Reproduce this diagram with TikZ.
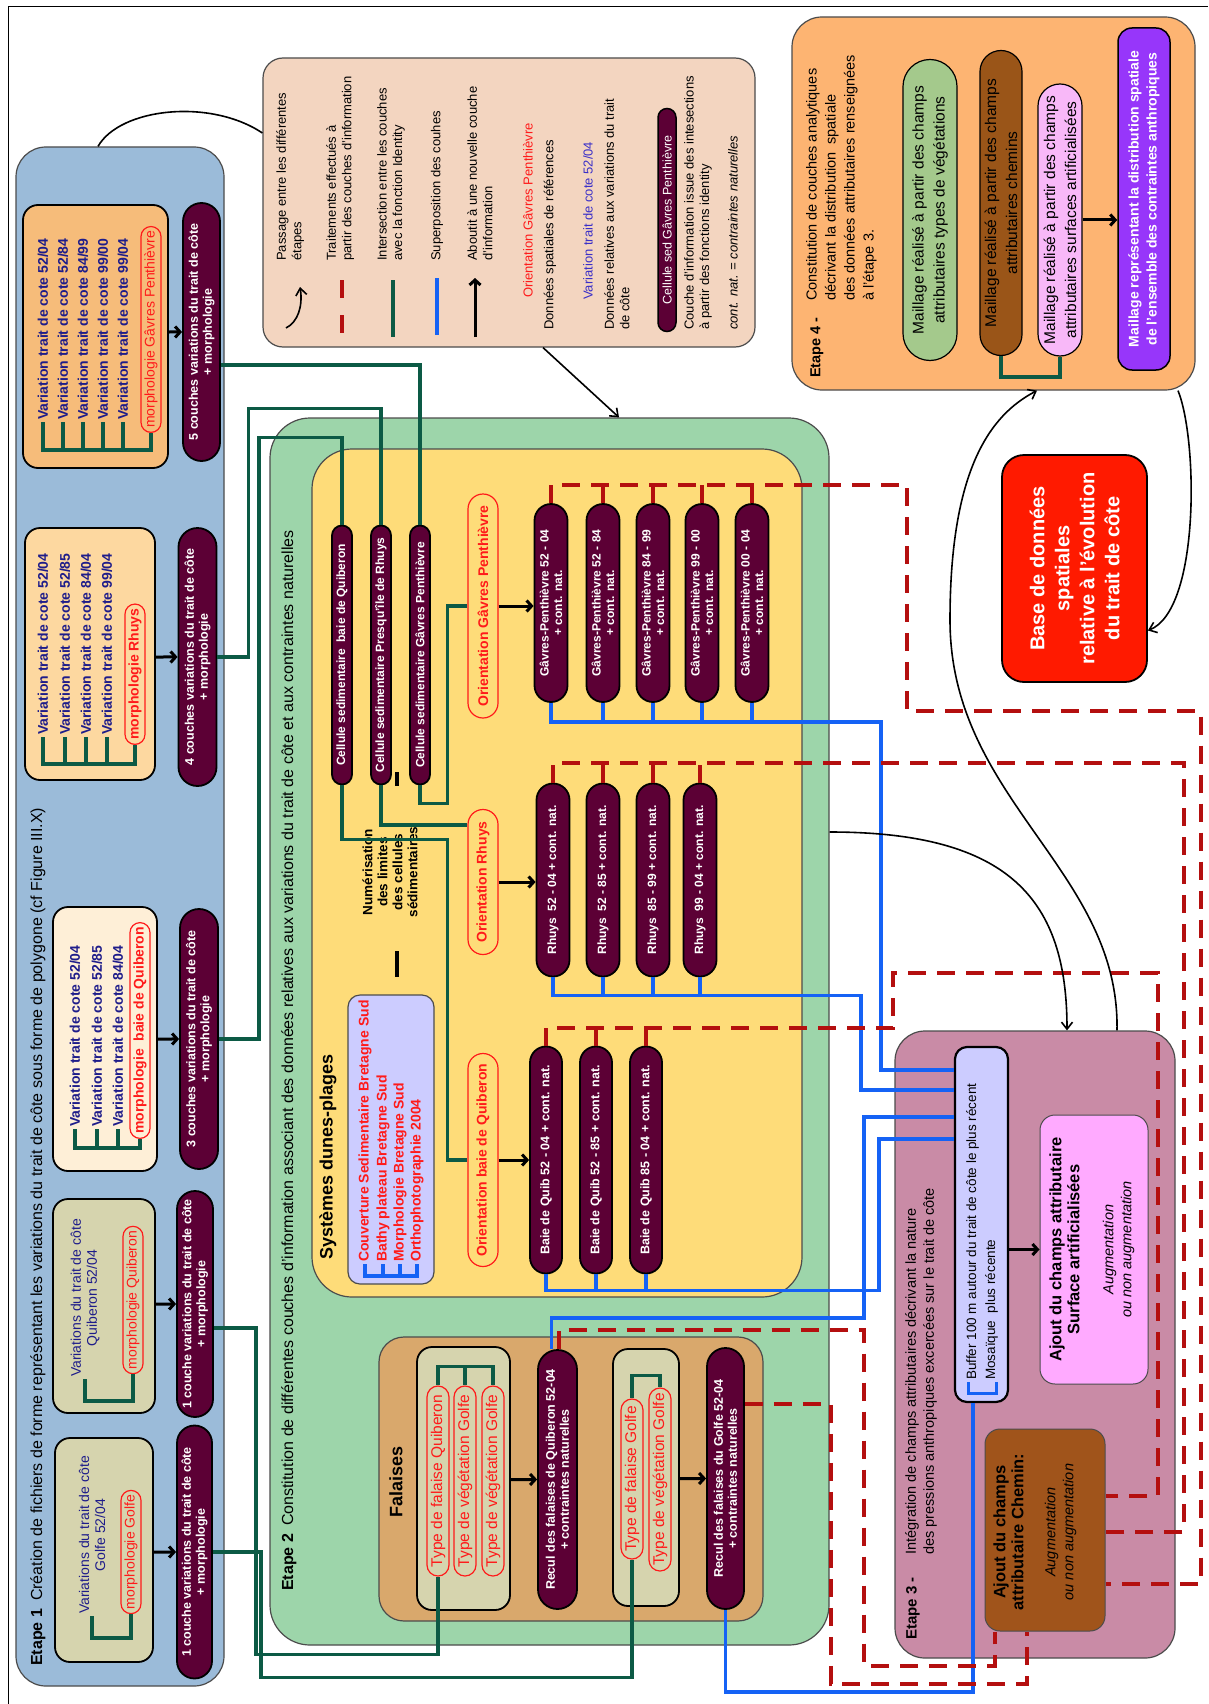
\documentclass[tikz,border=0pt]{standalone}
\usepackage{fontspec}
\setmainfont{Liberation Sans}
\usetikzlibrary{shapes.misc,fit,arrows.meta}

\definecolor{etblue}{HTML}{9BBBD9}
\definecolor{khaki}{HTML}{D6D4AE}
\definecolor{cream}{HTML}{FEEFD7}
\definecolor{sand}{HTML}{FDD8A0}
\definecolor{apricot}{HTML}{F6BC7A}
\definecolor{plum}{HTML}{5C0035}
\definecolor{navytxt}{HTML}{1E1C8A}
\definecolor{redtxt}{HTML}{FF1A1A}
\definecolor{tealln}{HTML}{0C5A45}
\definecolor{bluln}{HTML}{1562F5}
\definecolor{darkred}{HTML}{B40F0F}
\definecolor{peach}{HTML}{F3D5C0}
\definecolor{etgreen}{HTML}{9DD5AA}
\definecolor{dunes}{HTML}{FEDC79}
\definecolor{lavend}{HTML}{CCCCFF}
\definecolor{cliff}{HTML}{D9A86C}
\definecolor{mauve}{HTML}{C98BA6}
\definecolor{pinkbox}{HTML}{FFAAFF}
\definecolor{chemcol}{HTML}{A0541B}
\definecolor{etorange}{HTML}{FDB472}
\definecolor{vegpill}{HTML}{A4C98C}
\definecolor{brnpill}{HTML}{9A5518}
\definecolor{pnkpill}{HTML}{F8B8F8}
\definecolor{violbox}{HTML}{9736FA}
\definecolor{basered}{HTML}{FF1A00}
\definecolor{legblue}{HTML}{3A2FC8}

\begin{document}
\begin{tikzpicture}[x=1pt, y=-1pt,
    vt/.style={rotate=90, align=center, inner sep=2pt},
    zone/.style={draw=black!70, line width=1.2pt, rounded corners=#1, inner sep=0pt},
    zone/.default=30pt,
    cadre/.style={zone=15pt, draw=black, line width=1.8pt},
    ln/.style={vt, anchor=west, text=navytxt, font=\bfseries\fontsize{14}{17}\selectfont},
    navy/.style={vt, text=navytxt, font=\fontsize{14}{16}\selectfont},
    morph/.style={vt, anchor=west, rounded rectangle, draw=redtxt, line width=1.2pt, text=redtxt, font=\fontsize{14}{17}\selectfont, inner xsep=2pt, inner ysep=1pt, minimum height=20pt},
    pill/.style 2 args={vt, rounded rectangle, draw=black, line width=1.8pt, fill=plum, text=white, font=\bfseries\fontsize{12.5}{14}\selectfont, inner sep=1pt, minimum width=#1, minimum height=#2},
    orient/.style={vt, rounded rectangle, draw=redtxt, line width=1.2pt, fill=dunes, text=redtxt, font=\bfseries\fontsize{14}{17}\selectfont, minimum height=30pt},
    typ/.style={vt, rounded rectangle, draw=redtxt, line width=1.2pt, text=redtxt, font=\fontsize{15.5}{18}\selectfont, inner sep=1pt, minimum height=22pt},
    legt/.style={vt, align=left, anchor=north west, font=\fontsize{13}{15.5}\selectfont},
    e4pill/.style={vt, rounded rectangle, draw=black, line width=1.2pt, font=\fontsize{15.5}{21}\selectfont},
    arr/.style={-{Straight Barb[length=5pt,width=11pt]}, line width=3pt},
    grn/.style={draw=tealln, line width=3.5pt},
    blu/.style={draw=bluln, line width=3.5pt},
    dsh/.style={draw=darkred, line width=4pt, dash pattern=on 18pt off 11pt},
    crv/.style={line width=1.6pt},
    crvarr/.style={crv, -{Straight Barb[length=7pt,width=11pt]}}
  ]
\useasboundingbox (0,0) rectangle (1208,1704);
\fill[white] (0,0) rectangle (1208,1704);
\draw[line width=1pt] (8,1704) -- (8,7) -- (1208,7);

% Etape 1
\node[zone, fill=etblue, fit={(16,147) (224,1686)}] (e1) {};
\node[vt, anchor=west, font=\fontsize{16}{19}\selectfont] (e1t) at (38,1668) {\textbf{Etape 1}\enspace Création de fichiers de forme représentant les variations du trait de côte sous forme de polygone (cf Figure III.X)};

\node[cadre, fill=apricot, fit={(23,205) (168,468)}] (b5) {};
\node[ln] (v51) at (43,422) {Variation trait de cote 52/04};
\node[ln] (v52) at (63,422) {Variation trait de cote 52/84};
\node[ln] (v53) at (83,422) {Variation trait de cote 84/99};
\node[ln] (v54) at (103,422) {Variation trait de cote 99/00};
\node[ln] (v55) at (123,422) {Variation trait de cote 99/04};
\node[morph] (m5) at (151,433) {morphologie Gâvres Penthièvre};
\node[pill={260pt}{37pt}] (n5) at (201.5,332) {5 couches variations du trait de côte\\+ morphologie};

\node[cadre, fill=sand, fit={(25,528) (155,780)}] (b4) {};
\node[ln] (v41) at (43,737) {Variation trait de cote 52/04};
\node[ln] (v42) at (65,737) {Variation trait de cote 52/85};
\node[ln] (v43) at (86,737) {Variation trait de cote 84/04};
\node[ln] (v44) at (107,737) {Variation trait de cote 99/04};
\node[morph, font=\bfseries\fontsize{14}{17}\selectfont] (m4) at (135,745) {morphologie Rhuys};
\node[pill={260pt}{38pt}] (n4) at (197.5,657) {4 couches variations du trait de côte\\+ morphologie};

\node[cadre, fill=cream, fit={(53,907) (157,1171)}] (b3) {};
\node[ln] (v31) at (75,1129) {Variation trait de cote 52/04};
\node[ln] (v32) at (97,1129) {Variation trait de cote 52/85};
\node[ln] (v33) at (118,1129) {Variation trait de cote 84/04};
\node[morph, font=\bfseries\fontsize{14}{17}\selectfont] (m3) at (140,1139) {morphologie\ \ baie de Quiberon};
\node[pill={262pt}{38pt}] (n3) at (199,1039) {3 couches variations du trait de côte\\+ morphologie};

\node[cadre, fill=khaki, fit={(53,1199) (155,1413)}] (b2) {};
\node[navy] (t2) at (85,1298) {Variations du trait de côte\\Quiberon 52/04};
\node[morph, anchor=center] (m2) at (133,1300) {morphologie Quiberon};
\node[pill={228pt}{36pt}] (n1b) at (195,1304) {1 couche variations du trait de côte\\+ morphologie};

\node[cadre, fill=khaki, fit={(55,1438) (153,1662)}] (b1) {};
\node[navy] (t1) at (92,1535) {Variations du trait de côte\\Golfe 52/04};
\node[morph, anchor=center] (m1) at (131,1552) {morphologie Golfe};
\node[pill={255pt}{35pt}] (n1a) at (194.5,1552) {1 couche variations du trait de côte\\+ morphologie};

\draw[grn] (v51.west) -- ++(0,28) -| (m5.west);
\foreach \v in {v52,v53,v54,v55} \draw[grn] (\v.west) -- ++(0,28);
\draw[grn] (v41.west) -- ++(0,27) -| (m4.west);
\foreach \v in {v42,v43,v44} \draw[grn] (\v.west) -- ++(0,27);
\draw[grn] (v31.west) -- ++(0,19) -| (m3.west);
\foreach \v in {v32,v33} \draw[grn] (\v.west) -- ++(0,19);
\draw[grn] (t2.west) -- ++(0,22) -| (m2.west);
\draw[grn] (t1.west) -- ++(0,22) -| (m1.west);
\draw[arr] (b5.east |- n5) -- (n5);
\draw[arr] (b4.east |- n4) -- (n4);
\draw[arr] (b3.east |- n3) -- (n3);
\draw[arr] (b2.east |- n1b) -- (n1b);
\draw[arr] (b1.east |- n1a) -- (n1a);

% legende
\node[zone=20pt, fill=peach, fit={(263,58) (755,347)}] (leg) {};
\draw[crvarr] (286,328) .. controls (298,322) and (303,306) .. (300,287);
\node[legt] at (274,263) {Passage entre les différentes\\étapes};
\draw[dsh, dash pattern=on 18pt off 17pt] (342,280) -- (342,333);
\node[legt] at (324,263) {Traitements effectués à\\partir des couches d'information};
\draw[grn] (393,280) -- (393,337);
\node[legt] at (375,263) {Intersection entre les couches\\avec la fonction Identity};
\draw[blu] (437,278) -- (437,335);
\node[legt, anchor=west] at (437,263) {Superposition des couhes};
\draw[arr] (475,337) -- (475,278);
\node[legt] at (465,263) {Aboutit à une nouvelle couche\\d'information};
\node[legt, anchor=west, text=redtxt] at (528,300) {Orientation Gâvres Penthièvre};
\node[legt, anchor=west] at (550,332) {Données spatiales de références};
\node[legt, anchor=west, text=legblue] at (588,302) {Variation trait de cote 52/04};
\node[legt] at (602,332) {Données relatives aux variations du trait\\de côte};
\node[pill={225pt}{18pt}, font=\fontsize{12.5}{14}\selectfont, line width=1.5pt] (lgpill) at (667,220) {Cellule sed Gâvres Penthièvre};
\node[legt] at (682,332) {Couche d'information issue des intesections\\à partir des fonctions identity};
\node[legt, anchor=west, font=\itshape\fontsize{13}{15.5}\selectfont] at (733,332) {cont. nat. = contraintes naturelles};

% Etape 4
\node[zone, fill=etorange, fit={(792,17) (1195,390)}] (e4) {};
\node[vt, anchor=west, font=\bfseries\fontsize{14.5}{18}\selectfont] at (817,380) {Etape 4 -};
\node[vt, anchor=north west, align=left, font=\fontsize{14.5}{19}\selectfont] (e4t) at (804,303) {Constitution de couches analytiques\\décrivant la distribution\ \ spatiale\\des données attributaires renseignées\\à l'étape 3.};
\node[e4pill, fill=vegpill, minimum width=305pt, minimum height=54pt] (veg) at (930,210) {Maillage réalisé à partir des champs\\attributaires types de végétations};
\node[e4pill, fill=brnpill, minimum width=309pt, minimum height=42pt] (brw) at (1001,203) {Maillage réalisé à partir des champs\\attributaires chemins};
\node[e4pill, fill=pnkpill, minimum width=276pt, minimum height=44pt] (pnk) at (1060,220) {Maillage réalisé à partir des champs\\attributaires surfaces artificialisées};
\node[vt, draw=black, line width=1.5pt, fill=violbox, rounded corners=14pt, text=white, font=\bfseries\fontsize{14}{18}\selectfont, minimum width=342pt, minimum height=52pt] (mall) at (1144,199) {Maillage représentant la distribution spatiale\\de l'ensemble des contraintes anthropiques};
\draw[grn] (brw.west) -- ++(0,21) -| (pnk.west);
\draw[arr] (pnk.south) -- (pnk.south -| mall.north);

\node[vt, draw=black, line width=1.8pt, fill=basered, rounded corners=22pt, text=white, font=\bfseries\fontsize{20}{25}\selectfont, minimum width=227pt, minimum height=145pt] (base) at (1074.5,568.5) {Base de données\\spatiales\\relative à l'évolution\\du trait de côte};

% Etape 2
\node[zone=40pt, fill=etgreen, fit={(270,418) (829,1645)}] (e2) {};
\node[vt, anchor=west, font=\fontsize{16}{19}\selectfont] at (289,1593) {\textbf{Etape 2}\enspace Constitution de différentes couches d'information associant des données relatives aux variations du trait de côte et aux contraintes naturelles};
\node[zone=40pt, fill=dunes, fit={(312,449) (802,1297)}] (dun) {};
\node[vt, anchor=west, font=\bfseries\fontsize{18}{21}\selectfont] at (328,1262) {Systèmes dunes-plages};
\node[cadre, zone=12pt, fill=lavend, fit={(348,995) (434,1284)}] (lav) {};
\node[ln, text=redtxt] (l1) at (365,1264) {Couverture Sedimentaire Bretagne Sud};
\node[ln, text=redtxt] (l2) at (383,1264) {Bathy plateau Bretagne Sud};
\node[ln, text=redtxt] (l3) at (400,1264) {Morphologie Bretagne Sud};
\node[ln, text=redtxt] (l4) at (417,1264) {Orthophotographie 2004};
\draw[blu] (l1.west) -- ++(0,12) -| (l4.west);
\foreach \v in {l2,l3} \draw[blu] (\v.west) -- ++(0,12);
\node[vt, font=\bfseries\fontsize{13.5}{15}\selectfont] (num) at (390,872) {Numérisation\\des limites\\des cellules\\sédimentaires};
\draw[line width=3.5pt] (397,772) -- (397,786);
\draw[line width=3.5pt] (397,951) -- (397,977);

\node[pill={261pt}{20pt}, font=\bfseries\fontsize{12}{14}\selectfont] (cs1) at (342,655) {Cellule sedimentaire\ \ baie de Quiberon};
\node[pill={261pt}{20pt}, font=\bfseries\fontsize{12}{14}\selectfont] (cs2) at (381,655) {Cellule sedimentaire Presqu'île de Rhuys};
\node[pill={261pt}{20pt}, font=\bfseries\fontsize{12}{14}\selectfont] (cs3) at (420,655) {Cellule sedimentaire Gâvres Penthièvre};

\node[orient, minimum width=228pt] (og) at (483,606) {Orientation Gâvres Penthièvre};
\node[orient, minimum width=149pt] (or) at (483,882) {Orientation Rhuys};
\node[orient, minimum width=217pt] (ob) at (483,1160) {Orientation baie de Quiberon};

\foreach \n/\xx/\per in {1/551/52 - 04, 2/603/52 - 84, 3/653/84 - 99, 4/702/99 - 00, 5/752/00 - 04}
  \node[pill={200pt}{33pt}, font=\bfseries\fontsize{12}{13.5}\selectfont] (gp\n) at (\xx,603) {Gâvres-Penthièvre \per\\+ cont. nat.};
\foreach \n/\xx/\per in {1/553/52 - 04, 2/603/52 - 85, 3/653/85 - 99, 4/700/99 - 04}
  \node[pill={195pt}{33pt}, font=\bfseries\fontsize{12}{13.5}\selectfont] (rp\n) at (\xx,880) {Rhuys\ \ \per{} + cont. nat.};
\foreach \n/\xx/\per in {1/546/52 - 04, 2/596/52 - 85, 3/646/85 - 04}
  \node[pill={229pt}{32pt}, font=\bfseries\fontsize{12.5}{14}\selectfont] (bp\n) at (\xx,1160) {Baie de Quib \per{} + cont. nat.};

\draw[arr] (og.south) -- (og.south -| gp1.north);
\draw[arr] (or.south) -- (or.south -| rp1.north);
\draw[arr] (ob.south) -- (ob.south -| bp1.north);

% Falaises
\node[zone=25pt, fill=cliff, fit={(379,1337) (763,1621)}] (fal) {};
\node[vt, font=\bfseries\fontsize{18}{21}\selectfont] at (396,1482) {Falaises};
\node[cadre, fill=khaki, fit={(417,1347) (510,1610)}] (fb1) {};
\node[typ, minimum width=192pt] (tq1) at (438,1481) {Type de falaise Quiberon};
\node[typ, minimum width=192pt] (tq2) at (465,1481) {Type de végétation Golfe};
\node[typ, minimum width=192pt] (tq3) at (493,1481) {Type de végétation Golfe};
\draw[grn] (tq1.east) -- ++(0,-19) -| (tq3.east);
\draw[grn] (tq2.east) -- ++(0,-19);
\node[pill={261pt}{39pt}] (rq) at (557.5,1479.5) {Recul des falaises de Quiberon 52-04\\+ contraintes naturelles};
\node[cadre, fill=khaki, fit={(613,1349) (679,1606)}] (fb2) {};
\node[typ, minimum width=162pt] (tg1) at (632,1479) {Type de falaise Golfe};
\node[typ, minimum width=185pt] (tg2) at (660,1479.5) {Type de végétation Golfe};
\draw[grn] (tg1.east) -- ++(0,-23) -| (tg2.east);
\node[pill={263pt}{37pt}] (rg) at (725.5,1478.5) {Recul des falaises du Golfe 52-04\\+ contraintes naturelles};
\draw[arr] (fb1.east |- rq) -- (rq);
\draw[arr] (fb2.east |- rg) -- (rg);

% Etape 3
\node[zone, fill=mauve, fit={(895,1031) (1175,1658)}] (e3) {};
\node[vt, anchor=west, font=\bfseries\fontsize{15}{18}\selectfont] at (913,1642) {Etape 3 -};
\node[vt, anchor=north west, align=left, font=\fontsize{14.5}{18}\selectfont] at (903,1557) {Intégration de champs attributaires décrivant la nature\\des pressions anthropiques excercées sur le trait de côte};
\node[vt, draw=black, line width=2.2pt, fill=lavend, rounded corners=12pt, minimum width=355pt, minimum height=53pt] (buf) at (981.5,1224.5) {};
\node[vt, anchor=north west, align=left, font=\fontsize{13.5}{19}\selectfont] (buft) at (964,1382) {Buffer 100 m autour du trait de côte le plus récent\\Mosaïque\ \ plus récente};
\draw[blu, line width=3pt] ([xshift=4pt]buft.north west) -- ++(0,11) -| ([xshift=-4pt]buft.south west);
\node[vt, draw=black!70, line width=1pt, fill=pinkbox, rounded corners=15pt, minimum width=269pt, minimum height=108pt] (sfc) at (1094,1249.5) {};
\node[vt, font=\fontsize{14.5}{18}\selectfont] at (1092,1249.5) {\bfseries\fontsize{16.5}{20}\selectfont Ajout du champs attributaire\\\bfseries\fontsize{16.5}{20}\selectfont Surface artificialisées\\[16pt]\mdseries\itshape\fontsize{14.5}{18}\selectfont Augmentation\\\mdseries\itshape\fontsize{14.5}{18}\selectfont ou non augmentation};
\node[vt, draw=black!70, line width=1pt, fill=chemcol, rounded corners=15pt, minimum width=202pt, minimum height=120pt] (chem) at (1045,1530) {};
\node[vt, font=\fontsize{14.5}{18}\selectfont] at (1035,1532) {\bfseries\fontsize{16.5}{20}\selectfont Ajout du champs\\\bfseries\fontsize{16.5}{20}\selectfont attributaire Chemin:\\[14pt]\mdseries\itshape\fontsize{14.5}{18}\selectfont Augmentation\\\mdseries\itshape\fontsize{14.5}{18}\selectfont ou non augmentation};
\draw[arr] (buf.south |- sfc) -- (sfc);

% intersections (vert)
\draw[grn] (n5.south |- 0,365) -| (cs3.east);
\draw[grn] (n4.south) -- ++(31,0) |- ([yshift=116pt]cs2.east) -- (cs2.east);
\draw[grn] (n3.south) -- ++(40,0) |- ([yshift=87pt]cs1.east) -- (cs1.east);
\draw[grn] ([yshift=-24pt]n1b.south) -- ++(42,0) |- ([yshift=-78pt]tq1.west) -- (tq1.west);
\draw[grn] (n1a.south) -- ++(48,0) |- ([yshift=-118pt]tg1.west) -- (tg1.west);
\draw[grn] (cs3.west) -- ++(0,18) -| ([xshift=-20pt]og.north) -- (og.north);
\draw[grn] (cs2.west) |- ([yshift=57pt]or.north);
\draw[grn] (cs1.west) -- ++(0,54) -| ([xshift=-20pt]ob.north) -- (ob.north);

% superpositions (bleu)
\draw[blu] (gp1.west) -- ++(0,19) -| ([xshift=-73pt, yshift=154.5pt]buf.north) -- ([yshift=154.5pt]buf.north);
\foreach \p in {gp2,gp3,gp4,gp5} \draw[blu] (\p.west) -- ++(0,19);
\draw[blu] (rp1.west) -- ++(0,18) -| ([xshift=-93pt, yshift=134.5pt]buf.north) -- ([yshift=134.5pt]buf.north);
\foreach \p in {rp2,rp3,rp4} \draw[blu] (\p.west) -- ++(0,18);
\draw[blu] (bp1.west) -- ++(0,16) -| ([xshift=-75pt, yshift=85.5pt]buf.north) -- ([yshift=85.5pt]buf.north);
\foreach \p in {bp2,bp3} \draw[blu] (\p.west) -- ++(0,16);
\draw[blu] ([xshift=-6pt]rq.east) -- ++(0,-31) -| ([xshift=-90pt, yshift=107.5pt]buf.north) -- ([yshift=107.5pt]buf.north);
\draw[blu] (rg.west) -- ++(0,82) -| ([xshift=-8.5pt]buf.west);

% traitements (rouge)
\draw[dsh] (gp1.east) -- ++(0,-18) -- ++(356,0) -- ++(0,226) -| ([xshift=95pt, yshift=-54pt]chem.south) -- ([yshift=-54pt]chem.south);
\foreach \p in {gp2,gp3,gp4,gp5} \draw[dsh] (\p.east) -- ++(0,-18);
\draw[dsh] (rp1.east) -- ++(0,-20) -| ([xshift=78pt, yshift=-2pt]chem.south) -- ([yshift=-2pt]chem.south);
\foreach \p in {rp2,rp3,rp4} \draw[dsh] (\p.east) -- ++(0,-20);
\draw[dsh] (bp1.east) -- ++(0,-18) -- ++(347,0) -- ++(0,-55) -| ([xshift=52pt, yshift=34pt]chem.south) -- ([yshift=34pt]chem.south);
\foreach \p in {bp2,bp3} \draw[dsh] (\p.east) -- ++(0,-18);
\draw[dsh] ([xshift=1pt]rq.east) -- ++(0,-19) -| ([xshift=-181pt, yshift=-34pt]chem.west) -| ([xshift=-50pt]chem.west);
\draw[dsh] ([yshift=74.5pt]rg.south) -| ([xshift=-214pt, yshift=-52pt]chem.west) -| ([xshift=-18pt]chem.west);

% passages entre etapes
\draw[crv] ([xshift=-22pt]e1.north) .. controls (120,108) and (210,98) .. ([yshift=69.5pt]leg.west);
\draw[crvarr] ([xshift=34pt]leg.south) -- ([xshift=69.5pt]e2.north);
\draw[crvarr] ([yshift=199.5pt]e2.east) .. controls (1010,832) and (1067,900) .. ([xshift=32pt]e3.north);
\draw[crvarr] ([xshift=82pt]e3.north) .. controls (1120,870) and (950,800) .. (950,620) .. controls (950,470) and (990,415) .. ([xshift=43.5pt]e4.south);
\draw[crvarr] ([xshift=184.5pt]e4.south) .. controls (1198,440) and (1200,610) .. ([yshift=-62pt]base.south);
\end{tikzpicture}
\end{document}
